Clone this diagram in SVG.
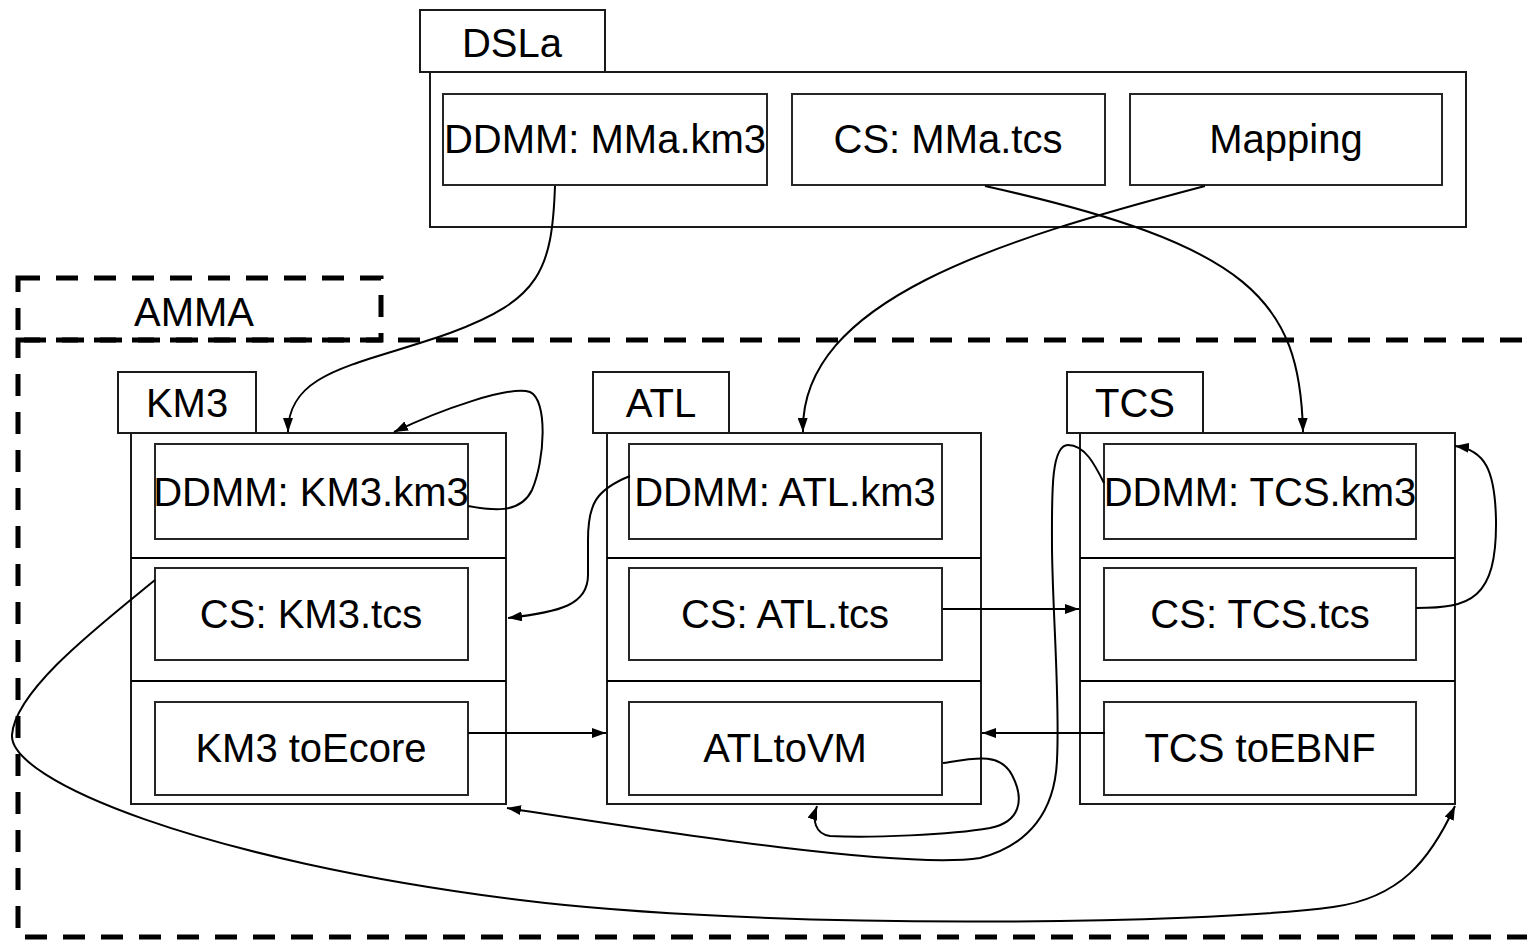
<svg xmlns="http://www.w3.org/2000/svg" width="1527" height="941" viewBox="0 0 1527 941">
  <style>
    .box { fill: #ffffff; stroke: #1a1a1a; stroke-width: 2; }
    .inner { fill: #ffffff; stroke: #262626; stroke-width: 2; }
    .dash { fill: none; stroke: #000000; stroke-width: 5; stroke-dasharray: 22 16; }
    .lbl { font-family: "Liberation Sans", Arial, sans-serif; font-size: 40px; fill: #000000; text-anchor: middle; }
    .edge { fill: none; stroke: #000000; stroke-width: 2; marker-end: url(#arrow); }
    .edge-plain { fill: none; stroke: #000000; stroke-width: 2; }
  </style>
  <defs>
    <marker id="arrow" viewBox="0 0 14 10" refX="14" refY="5" markerWidth="14" markerHeight="10" markerUnits="userSpaceOnUse" orient="auto">
      <path d="M0,0 L14,5 L0,10 Z" fill="#000000"/>
    </marker>
  </defs>

  <rect width="1527" height="941" fill="#ffffff"/>

  <!-- DSLa package -->
  <g id="dsla">
    <rect class="box" x="420" y="10" width="185" height="62"/>
    <text class="lbl" x="512" y="57">DSLa</text>
    <rect class="box" x="430" y="72" width="1036" height="155"/>
    <rect class="inner" x="443" y="94" width="324" height="91"/>
    <text class="lbl" x="605" y="153">DDMM: MMa.km3</text>
    <rect class="inner" x="792" y="94" width="313" height="91"/>
    <text class="lbl" x="948" y="153">CS: MMa.tcs</text>
    <rect class="inner" x="1130" y="94" width="312" height="91"/>
    <text class="lbl" x="1286" y="153">Mapping</text>
  </g>

  <!-- AMMA dashed frame -->
  <g id="amma">
    <rect class="dash" x="18" y="278" width="363" height="62"/>
    <text class="lbl" x="194" y="326">AMMA</text>
    <rect class="dash" x="18" y="340" width="1540" height="597"/>
  </g>

  <!-- KM3 package -->
  <g id="km3">
    <rect class="box" x="118" y="372" width="138" height="61"/>
    <text class="lbl" x="187" y="417">KM3</text>
    <rect class="box" x="131" y="433" width="375" height="371"/>
    <line class="edge-plain" x1="131" y1="558" x2="506" y2="558"/>
    <line class="edge-plain" x1="131" y1="681" x2="506" y2="681"/>
    <rect class="inner" x="155" y="444" width="313" height="95"/>
    <text class="lbl" x="311" y="506">DDMM: KM3.km3</text>
    <rect class="inner" x="155" y="568" width="313" height="92"/>
    <text class="lbl" x="311" y="628">CS: KM3.tcs</text>
    <rect class="inner" x="155" y="702" width="313" height="93"/>
    <text class="lbl" x="311" y="762">KM3 toEcore</text>
  </g>

  <!-- ATL package -->
  <g id="atl">
    <rect class="box" x="593" y="372" width="136" height="61"/>
    <text class="lbl" x="661" y="417">ATL</text>
    <rect class="box" x="607" y="433" width="374" height="371"/>
    <line class="edge-plain" x1="607" y1="558" x2="981" y2="558"/>
    <line class="edge-plain" x1="607" y1="681" x2="981" y2="681"/>
    <rect class="inner" x="629" y="444" width="313" height="95"/>
    <text class="lbl" x="785" y="506">DDMM: ATL.km3</text>
    <rect class="inner" x="629" y="568" width="313" height="92"/>
    <text class="lbl" x="785" y="628">CS: ATL.tcs</text>
    <rect class="inner" x="629" y="702" width="313" height="93"/>
    <text class="lbl" x="785" y="762">ATLtoVM</text>
  </g>

  <!-- TCS package -->
  <g id="tcs">
    <rect class="box" x="1067" y="372" width="136" height="61"/>
    <text class="lbl" x="1135" y="417">TCS</text>
    <rect class="box" x="1080" y="433" width="375" height="371"/>
    <line class="edge-plain" x1="1080" y1="558" x2="1455" y2="558"/>
    <line class="edge-plain" x1="1080" y1="681" x2="1455" y2="681"/>
    <rect class="inner" x="1104" y="444" width="312" height="95"/>
    <text class="lbl" x="1260" y="506">DDMM: TCS.km3</text>
    <rect class="inner" x="1104" y="568" width="312" height="92"/>
    <text class="lbl" x="1260" y="628">CS: TCS.tcs</text>
    <rect class="inner" x="1104" y="702" width="312" height="93"/>
    <text class="lbl" x="1260" y="762">TCS toEBNF</text>
  </g>

  <!-- connectors -->
  <g id="connectors">
    <path class="edge" d="M555,186 C552,270 540,300 450,333 C360,365 288,370 288,432"/>
    <path class="edge" d="M1205,186 C1000,240 800,300 803,432"/>
    <path class="edge" d="M985,186 C1250,245 1300,300 1303,432"/>
    <path class="edge" d="M468,506 C490,510 520,515 532,490 C545,460 548,400 530,392 C510,385 440,410 394,432"/>
    <path class="edge" d="M630,476 C595,490 588,505 588,540 L588,575 C588,605 560,612 508,618"/>
    <path class="edge" d="M943,609 L1079,609"/>
    <path class="edge" d="M1105,733 L982,733"/>
    <path class="edge" d="M468,733 L606,733"/>
    <path class="edge" d="M943,763 C975,758 1000,752 1012,775 C1025,800 1020,822 990,828 C950,835 870,838 830,836 C815,834 812,820 817,806"/>
    <path class="edge" d="M155,580 C100,625 15,690 12,735 C9,780 200,860 520,900 C760,930 1200,925 1333,907 C1400,898 1430,860 1455,806"/>
    <path class="edge" d="M1104,483 C1095,465 1085,445 1068,445 C1050,445 1052,500 1052,550 C1053,620 1060,700 1057,760 C1055,810 1030,845 980,858 C900,870 650,830 507,808"/>
    <path class="edge" d="M1416,608 C1470,608 1497,600 1496,520 C1495,470 1485,450 1455,446"/>
  </g>
</svg>
